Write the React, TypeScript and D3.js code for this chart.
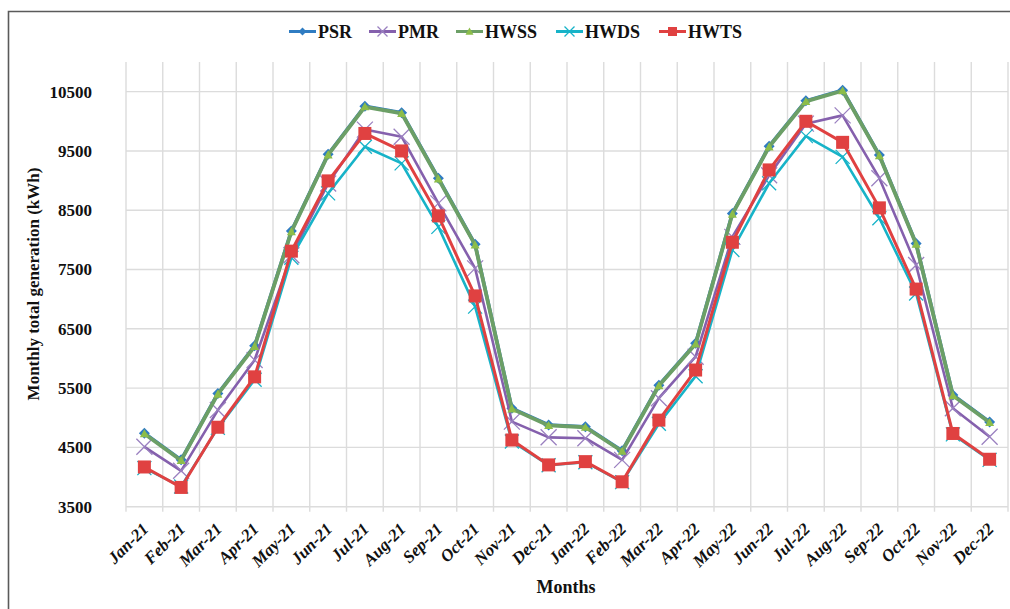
import React, { useEffect, useRef } from "react";
import * as d3 from "d3";

const months = [
  "Jan-21", "Feb-21", "Mar-21", "Apr-21", "May-21", "Jun-21", "Jul-21", "Aug-21",
  "Sep-21", "Oct-21", "Nov-21", "Dec-21", "Jan-22", "Feb-22", "Mar-22", "Apr-22",
  "May-22", "Jun-22", "Jul-22", "Aug-22", "Sep-22", "Oct-22", "Nov-22", "Dec-22",
];

const psr = [4740, 4290, 5410, 6215, 8150, 9445, 10255, 10145, 9040, 7925, 5160, 4880,
  4850, 4445, 5550, 6255, 8445, 9580, 10345, 10525, 9430, 7940, 5385, 4930];
const pmr = [4510, 4105, 5130, 5975, 7740, 8950, 9860, 9740, 8615, 7520, 4935, 4670,
  4655, 4290, 5330, 6030, 8050, 9090, 9960, 10100, 9040, 7575, 5160, 4680];
const hwss = [4730, 4280, 5400, 6205, 8140, 9435, 10245, 10135, 9030, 7915, 5150, 4870,
  4840, 4435, 5540, 6245, 8435, 9570, 10335, 10515, 9420, 7930, 5375, 4920];
const hwds = [4150, 3840, 4830, 5640, 7700, 8785, 9570, 9290, 8220, 6875, 4600, 4200,
  4250, 3915, 4900, 5700, 7830, 8955, 9750, 9400, 8365, 7095, 4720, 4290];
const hwts = [4170, 3825, 4840, 5690, 7810, 8995, 9795, 9500, 8405, 7055, 4625, 4205,
  4260, 3920, 4960, 5805, 7960, 9180, 10000, 9645, 8540, 7170, 4735, 4300];

const yTicks = [3500, 4500, 5500, 6500, 7500, 8500, 9500, 10500];

const seriesNames = ["PSR", "PMR", "HWSS", "HWDS", "HWTS"];

type Marker = "diamond" | "x" | "triangle" | "square";
const seriesStyle: { line: string; marker: string; shape: Marker; width: number; size: number }[] = [
  { line: "#2f7cc2", marker: "#2f7cc2", shape: "diamond", width: 3.5, size: 11 },
  { line: "#8560ad", marker: "#9a80c0", shape: "x", width: 2.6, size: 16 },
  { line: "#6c9f66", marker: "#8cbd4a", shape: "triangle", width: 3.8, size: 9 },
  { line: "#17b3c8", marker: "#17b3c8", shape: "x", width: 2.6, size: 14 },
  { line: "#e04141", marker: "#e04141", shape: "square", width: 3, size: 13 },
];

const FONT = "'Liberation Serif', 'DejaVu Serif', serif";

export default function App() {
  const ref = useRef<SVGSVGElement>(null);

  useEffect(() => {
    if (!ref.current) return;
    const svg = d3.select(ref.current);
    svg.selectAll("*").remove();

    const W = 1010;
    const H = 609;
    const left = 126;
    const right = 1008;
    const top = 62;
    const bottom = 506.7;

    svg.append("rect").attr("width", W).attr("height", H).attr("fill", "white");

    // frame
    svg.append("path")
      .attr("d", `M8.5,${H} L8.5,11.5 L${W},11.5`)
      .attr("fill", "none")
      .attr("stroke", "#5a5a5a")
      .attr("stroke-width", 1.6);

    const x = d3.scaleBand<string>().domain(months).range([left, right]);
    const y = d3.scaleLinear().domain([3500, 11000]).range([bottom, top]);
    const cx = (i: number) => (x(months[i]) as number) + x.bandwidth() / 2;

    const grid = svg.append("g");
    // horizontal gridlines
    yTicks.forEach((t) => {
      grid.append("line")
        .attr("x1", left).attr("x2", right)
        .attr("y1", y(t)).attr("y2", y(t))
        .attr("stroke", "#dcdcdc").attr("stroke-width", 1.4);
    });
    // vertical gridlines at category boundaries
    const bounds = months.map((m) => x(m) as number).concat([right]);
    bounds.forEach((b) => {
      grid.append("line")
        .attr("x1", b).attr("x2", b)
        .attr("y1", top).attr("y2", bottom + 5)
        .attr("stroke", "#dcdcdc").attr("stroke-width", 1.4);
    });

    // y tick labels
    svg.append("g")
      .selectAll("text")
      .data(yTicks)
      .enter()
      .append("text")
      .attr("x", 92)
      .attr("y", (d) => y(d))
      .attr("dy", "0.35em")
      .attr("text-anchor", "end")
      .style("font-family", FONT)
      .style("font-weight", "bold")
      .style("font-size", "17px")
      .style("fill", "#111")
      .text((d) => d);

    // x tick labels
    svg.append("g")
      .selectAll("text")
      .data(months)
      .enter()
      .append("text")
      .attr("transform", (d, i) => `translate(${cx(i) - 2},${bottom + 16}) rotate(-45)`)
      .attr("text-anchor", "end")
      .attr("dy", "0.6em")
      .style("font-family", FONT)
      .style("font-weight", "bold")
      .style("font-style", "italic")
      .style("font-size", "17px")
      .style("fill", "#111")
      .text((d) => d);

    // axis titles
    svg.append("text")
      .attr("x", 566)
      .attr("y", 593)
      .attr("text-anchor", "middle")
      .style("font-family", FONT)
      .style("font-weight", "bold")
      .style("font-size", "18px")
      .style("fill", "#111")
      .text("Months");

    svg.append("text")
      .attr("transform", `translate(39,284) rotate(-90)`)
      .attr("text-anchor", "middle")
      .style("font-family", FONT)
      .style("font-weight", "bold")
      .style("font-size", "17px")
      .style("fill", "#111")
      .text("Monthly total generation (kWh)");

    const drawMarker = (g: d3.Selection<SVGGElement, unknown, null, undefined>, shape: Marker, px: number, py: number, size: number, color: string) => {
      const s = size / 2;
      if (shape === "diamond") {
        g.append("path")
          .attr("d", `M${px},${py - s} L${px + s},${py} L${px},${py + s} L${px - s},${py} Z`)
          .attr("fill", color);
      } else if (shape === "square") {
        g.append("rect")
          .attr("x", px - s).attr("y", py - s)
          .attr("width", size).attr("height", size)
          .attr("fill", color);
      } else if (shape === "triangle") {
        g.append("path")
          .attr("d", `M${px},${py - s} L${px + s},${py + s * 0.8} L${px - s},${py + s * 0.8} Z`)
          .attr("fill", color);
      } else {
        g.append("path")
          .attr("d", `M${px - s},${py - s} L${px + s},${py + s} M${px - s},${py + s} L${px + s},${py - s}`)
          .attr("stroke", color)
          .attr("stroke-width", 1.3)
          .attr("fill", "none");
      }
    };

    const data = [psr, pmr, hwss, hwds, hwts];
    const line = d3.line<number>()
      .x((_, i) => cx(i))
      .y((d) => y(d));

    data.forEach((vals, si) => {
      const st = seriesStyle[si];
      const g = svg.append("g");
      g.append("path")
        .attr("d", line(vals) as string)
        .attr("fill", "none")
        .attr("stroke", st.line)
        .attr("stroke-width", st.width)
        .attr("stroke-linejoin", "round");
      vals.forEach((v, i) => drawMarker(g, st.shape, cx(i), y(v), st.size, st.marker));
    });

    // legend
    const legendX = [289, 369, 456, 556, 659];
    const legend = svg.append("g");
    seriesNames.forEach((name, si) => {
      const st = seriesStyle[si];
      const lx = legendX[si];
      const ly = 31.5;
      legend.append("line")
        .attr("x1", lx).attr("x2", lx + 27)
        .attr("y1", ly).attr("y2", ly)
        .attr("stroke", st.line)
        .attr("stroke-width", 3);
      drawMarker(legend, st.shape, lx + 13.5, ly, st.shape === "square" ? 9 : st.shape === "x" ? 10 : 8, st.marker);
      legend.append("text")
        .attr("x", lx + 29)
        .attr("y", ly)
        .attr("dy", "0.35em")
        .style("font-family", FONT)
        .style("font-weight", "bold")
        .style("font-size", "18px")
        .style("fill", "#111")
        .text(name);
    });
  }, []);

  return (
    <svg
      ref={ref}
      width={1010}
      height={609}
      style={{ position: "absolute", left: 0, top: 0, display: "block" }}
    />
  );
}
